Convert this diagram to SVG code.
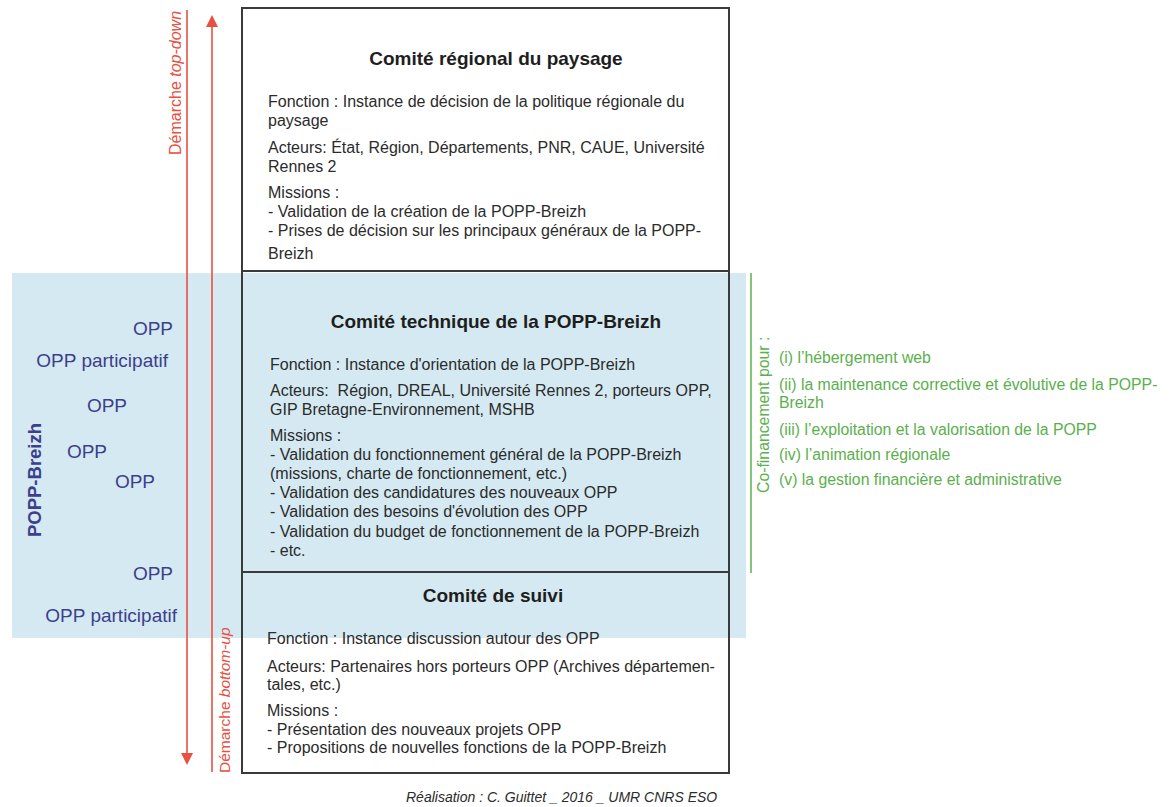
<svg xmlns="http://www.w3.org/2000/svg" width="1170" height="807" viewBox="0 0 1170 807">
<defs>
<style>
.body{font-family:"Liberation Sans",Arial,sans-serif;font-size:16px;fill:#2b2b2b}
.title{font-family:"Liberation Sans",Arial,sans-serif;font-size:19px;font-weight:bold;fill:#1e1e1e;text-anchor:middle}
.opp{font-family:"Liberation Sans",Arial,sans-serif;font-size:19px;fill:#3d3f8c;text-anchor:end}
.green{font-family:"Liberation Sans",Arial,sans-serif;font-size:15.8px;fill:#5ab04c}
.red{font-family:"Liberation Sans",Arial,sans-serif;font-size:15.5px;fill:#e8503f}
.box{fill:none;stroke:#3a3a3a;stroke-width:2}
.arrow{stroke:#e8503f;stroke-width:1.6;fill:none}
</style>
<marker id="ah" viewBox="0 0 12 16" refX="0" refY="8" markerWidth="12" markerHeight="16" markerUnits="userSpaceOnUse" orient="auto">
<path d="M0,2 L12,8 L0,14 z" fill="#e8503f"/>
</marker>
</defs>
<rect width="1170" height="807" fill="#ffffff"/>
<rect id="popp-zone" x="12" y="273" width="734" height="365" fill="#d4e9f1"/>
<g id="comite-regional">
<rect x="242" y="8" width="487" height="263" fill="#fefefc" class="box"/>
<text class="title" x="496" y="65">Comité régional du paysage</text>
<text class="body" x="268" y="107">Fonction : Instance de décision de la politique régionale du</text>
<text class="body" x="268" y="126">paysage</text>
<text class="body" x="268" y="153">Acteurs: État, Région, Départements, PNR, CAUE, Université</text>
<text class="body" x="268" y="172">Rennes 2</text>
<text class="body" x="268" y="198">Missions :</text>
<text class="body" x="268" y="217">- Validation de la création de la POPP-Breizh</text>
<text class="body" x="268" y="236">- Prises de décision sur les principaux généraux de la POPP-</text>
<text class="body" x="268" y="259">Breizh</text>
</g>
<g id="comite-technique">
<rect x="242" y="271" width="487" height="301" class="box"/>
<text class="title" x="496" y="328">Comité technique de la POPP-Breizh</text>
<text class="body" x="270" y="370">Fonction : Instance d'orientation de la POPP-Breizh</text>
<text class="body" x="270" y="396" xml:space="preserve">Acteurs:  Région, DREAL, Université Rennes 2, porteurs OPP,</text>
<text class="body" x="270" y="415">GIP Bretagne-Environnement, MSHB</text>
<text class="body" x="270" y="441">Missions :</text>
<text class="body" x="270" y="460">- Validation du fonctionnement général de la POPP-Breizh</text>
<text class="body" x="270" y="479">(missions, charte de fonctionnement, etc.)</text>
<text class="body" x="270" y="498">- Validation des candidatures des nouveaux OPP</text>
<text class="body" x="270" y="517">- Validation des besoins d'évolution des OPP</text>
<text class="body" x="270" y="537">- Validation du budget de fonctionnement de la POPP-Breizh</text>
<text class="body" x="270" y="556">- etc.</text>
</g>
<g id="comite-suivi">
<rect x="242" y="572" width="487" height="201" class="box"/>
<text class="title" x="493" y="602">Comité de suivi</text>
<text class="body" x="267" y="644">Fonction : Instance discussion autour des OPP</text>
<text class="body" x="267" y="672">Acteurs: Partenaires hors porteurs OPP (Archives départemen-</text>
<text class="body" x="267" y="690">tales, etc.)</text>
<text class="body" x="267" y="716">Missions :</text>
<text class="body" x="267" y="735">- Présentation des nouveaux projets OPP</text>
<text class="body" x="267" y="753">- Propositions de nouvelles fonctions de la POPP-Breizh</text>
</g>
<g id="popp-breizh">
<text x="41" y="480" transform="rotate(-90 41 480)" style="font-family:'Liberation Sans',Arial,sans-serif;font-size:18.5px;font-weight:bold;fill:#3d3f8c;text-anchor:middle">POPP-Breizh</text>
<text class="opp" x="173" y="335">OPP</text>
<text class="opp" x="168" y="367">OPP participatif</text>
<text class="opp" x="127" y="412">OPP</text>
<text class="opp" x="107" y="458">OPP</text>
<text class="opp" x="155" y="488">OPP</text>
<text class="opp" x="173" y="580">OPP</text>
<text class="opp" x="177" y="622">OPP participatif</text>
</g>
<g id="cofinancement">
<line x1="751" y1="273" x2="751" y2="573" stroke="#5ab04c" stroke-width="1.5"/>
<text class="green" x="769" y="493" transform="rotate(-90 769 493)">Co-financement pour :</text>
<text class="green" x="779" y="363">(i) l’hébergement web</text>
<text class="green" x="779" y="390">(ii) la maintenance corrective et évolutive de la POPP-</text>
<text class="green" x="779" y="408">Breizh</text>
<text class="green" x="779" y="435">(iii) l’exploitation et la valorisation de la POPP</text>
<text class="green" x="779" y="460">(iv) l’animation régionale</text>
<text class="green" x="779" y="485">(v) la gestion financière et administrative</text>
</g>
<g id="connectors">
<line class="arrow" x1="187" y1="10" x2="187" y2="753" marker-end="url(#ah)"/>
<line class="arrow" x1="212" y1="772" x2="212" y2="27" marker-end="url(#ah)"/>
</g>
<text class="red" x="181" y="155" transform="rotate(-90 181 155)" style="font-size:16px">Démarche <tspan font-style="italic">top-down</tspan></text>
<text class="red" x="230" y="773" transform="rotate(-90 230 773)">Démarche <tspan font-style="italic">bottom-up</tspan></text>
<text x="406" y="802" style="font-family:'Liberation Sans',Arial,sans-serif;font-size:14px;font-style:italic;fill:#2b2b2b">Réalisation : C. Guittet _ 2016 _ UMR CNRS ESO</text>
</svg>
